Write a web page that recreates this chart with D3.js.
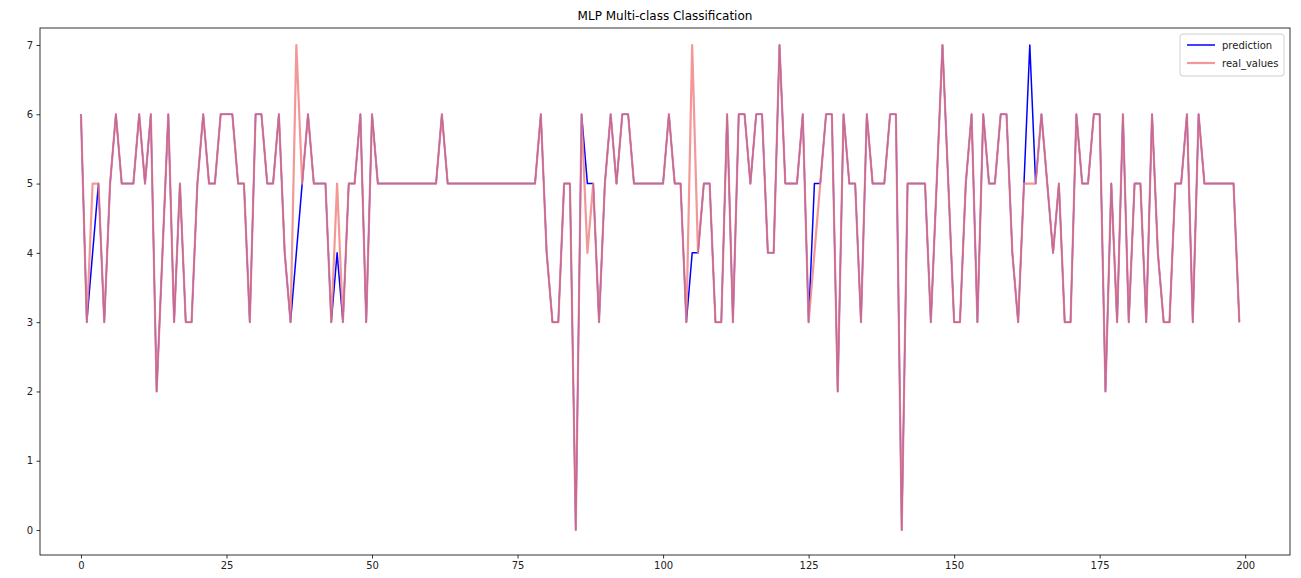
<!DOCTYPE html>
<html>
<head>
<meta charset="utf-8">
<script src="https://cdn.jsdelivr.net/npm/d3@7"></script>
<style>
  body { margin: 0; background: #fff; }
  svg { display: block; font-family: "DejaVu Sans", sans-serif; }
</style>
</head>
<body>
<svg id="chart" width="1301" height="578"></svg>
<script>
// Class labels of the test samples, in sample order
const realValues = [
  6,3,5,5,3,5,6,5,5,5,  6,5,6,2,4,6,3,5,3,3,
  5,6,5,5,6,6,6,5,5,3,  6,6,5,5,6,4,3,7,5,6,
  5,5,5,3,5,3,5,5,6,3,  6,5,5,5,5,5,5,5,5,5,
  5,5,6,5,5,5,5,5,5,5,  5,5,5,5,5,5,5,5,5,6,
  4,3,3,5,5,0,6,4,5,3,  5,6,5,6,6,5,5,5,5,5,
  5,6,5,5,3,7,4,5,5,3,  3,6,3,6,6,5,6,6,4,4,
  7,5,5,5,6,3,4,5,6,6,  2,6,5,5,3,6,5,5,5,6,
  6,0,5,5,5,5,3,5,7,5,  3,3,5,6,3,6,5,5,6,6,
  4,3,5,5,5,6,5,4,5,3,  3,6,5,5,6,6,2,5,3,6,
  3,5,5,3,6,4,3,3,5,5,  6,3,6,5,5,5,5,5,5,3
];

// Classes predicted by the MLP for the same samples
const prediction = [
  6,3,4,5,3,5,6,5,5,5,  6,5,6,2,4,6,3,5,3,3,
  5,6,5,5,6,6,6,5,5,3,  6,6,5,5,6,4,3,4,5,6,
  5,5,5,3,4,3,5,5,6,3,  6,5,5,5,5,5,5,5,5,5,
  5,5,6,5,5,5,5,5,5,5,  5,5,5,5,5,5,5,5,5,6,
  4,3,3,5,5,0,6,5,5,3,  5,6,5,6,6,5,5,5,5,5,
  5,6,5,5,3,4,4,5,5,3,  3,6,3,6,6,5,6,6,4,4,
  7,5,5,5,6,3,5,5,6,6,  2,6,5,5,3,6,5,5,5,6,
  6,0,5,5,5,5,3,5,7,5,  3,3,5,6,3,6,5,5,6,6,
  4,3,5,7,5,6,5,4,5,3,  3,6,5,5,6,6,2,5,3,6,
  3,5,5,3,6,4,3,3,5,5,  6,3,6,5,5,5,5,5,5,3
];

const xTickValues = [0, 25, 50, 75, 100, 125, 150, 175, 200];
const yTickValues = [0, 1, 2, 3, 4, 5, 6, 7];
const seriesNames = ["prediction", "real_values"];
const chartTitle = "MLP Multi-class Classification";

const colors = { prediction: "#0000ff", real: "#f08080" };
const realOpacity = 0.82;

const frame = { left: 40, right: 1290, top: 28, bottom: 555 };
const svg = d3.select("#chart");

const x = d3.scaleLinear().domain([-7.04, 207.7]).range([frame.left, frame.right]);
const y = d3.scaleLinear().domain([-0.36, 7.245]).range([frame.bottom, frame.top]);

// Plot area background
svg.append("rect")
  .attr("x", frame.left).attr("y", frame.top)
  .attr("width", frame.right - frame.left).attr("height", frame.bottom - frame.top)
  .attr("fill", "#fff");

const line = d3.line().x((d, i) => x(i)).y(d => y(d));

const plot = svg.append("g");
plot.append("path")
  .datum(prediction)
  .attr("fill", "none")
  .attr("stroke", colors.prediction)
  .attr("stroke-width", 1.5)
  .attr("stroke-linejoin", "round")
  .attr("d", line);

plot.append("path")
  .datum(realValues)
  .attr("fill", "none")
  .attr("stroke", colors.real)
  .attr("stroke-opacity", realOpacity)
  .attr("stroke-width", 2.2)
  .attr("stroke-linejoin", "round")
  .attr("d", line);

// Axes
const xAxis = svg.append("g")
  .attr("transform", `translate(0,${frame.bottom})`)
  .call(d3.axisBottom(x).tickValues(xTickValues).tickSize(3.5).tickPadding(3.5).tickFormat(d3.format("d")));
const yAxis = svg.append("g")
  .attr("transform", `translate(${frame.left},0)`)
  .call(d3.axisLeft(y).tickValues(yTickValues).tickSize(3.5).tickPadding(3.5).tickFormat(d3.format("d")));

[xAxis, yAxis].forEach(g => {
  g.select(".domain").remove();
  g.selectAll(".tick line").attr("stroke", "#000").attr("stroke-width", 0.8);
  g.selectAll(".tick text").attr("fill", "#222").style("font-size", "10px")
    .style("font-family", "'DejaVu Sans', sans-serif");
});

// Frame
svg.append("rect")
  .attr("x", frame.left).attr("y", frame.top)
  .attr("width", frame.right - frame.left).attr("height", frame.bottom - frame.top)
  .attr("fill", "none").attr("stroke", "#000").attr("stroke-width", 0.8);

// Title
svg.append("text")
  .attr("x", (frame.left + frame.right) / 2)
  .attr("y", frame.top - 8)
  .attr("text-anchor", "middle")
  .style("font-size", "12px")
  .attr("fill", "#000")
  .text(chartTitle);

// Legend
const legend = svg.append("g").attr("transform", "translate(1180,34)");
legend.append("rect")
  .attr("width", 104).attr("height", 42).attr("rx", 3)
  .attr("fill", "#fff").attr("fill-opacity", 0.8)
  .attr("stroke", "#d0d0d0").attr("stroke-width", 1);
const legendStyles = [
  { color: colors.prediction, opacity: 1, width: 1.5 },
  { color: colors.real, opacity: realOpacity, width: 2.2 }
];
seriesNames.forEach((name, i) => {
  const gy = 11 + i * 18;
  legend.append("line")
    .attr("x1", 7).attr("x2", 35).attr("y1", gy).attr("y2", gy)
    .attr("stroke", legendStyles[i].color)
    .attr("stroke-opacity", legendStyles[i].opacity)
    .attr("stroke-width", legendStyles[i].width);
  legend.append("text")
    .attr("x", 42).attr("y", gy + 3.5)
    .style("font-size", "10px")
    .attr("fill", "#222")
    .text(name);
});
</script>
</body>
</html>
